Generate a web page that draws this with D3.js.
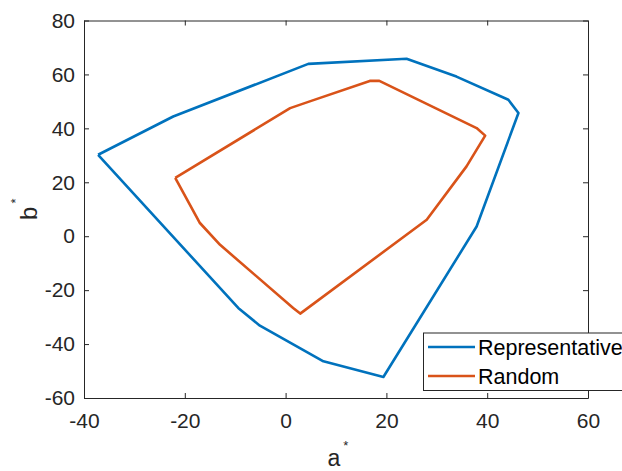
<!DOCTYPE html>
<html>
<head>
<meta charset="utf-8">
<script src="https://cdn.jsdelivr.net/npm/d3@7"></script>
<style>
  body { margin: 0; background: #fff; }
  svg { display: block; font-family: "Liberation Sans", Arial, sans-serif; }
  .tick text { fill: #262626; font-size: 21px; }
  .tick line, .domain { stroke: #262626; }
</style>
</head>
<body>
<svg id="chart" width="622" height="471"></svg>
<script>
"use strict";

const X_TICKS = [-40, -20, 0, 20, 40, 60];
const Y_TICKS = [-60, -40, -20, 0, 20, 40, 60, 80];
const SERIES_NAMES = ["Representative", "Random"];

// gamut outlines (a*, b*)
const repA = [-37.2, -22.3, 4.5, 24.0, 33.9, 44.2, 46.2, 37.9, 19.4, 7.5, -5.1, -9.4, -37.2];
const repB = [30.2, 44.4, 63.9, 65.8, 59.2, 50.6, 45.7, 3.6, -52.2, -46.4, -33.2, -26.6, 30.2];
const randA = [-21.9, -17.0, -13.0, 1.5, 2.9, 28.0, 35.9, 39.6, 37.9, 18.6, 16.7, 4.8, 0.9, -21.9];
const randB = [21.6, 4.9, -3.2, -26.6, -28.7, 6.1, 25.9, 37.3, 40.1, 57.6, 57.6, 50.0, 47.5, 21.6];

const COLORS = ["#0072BD", "#D95319"];

const margin = { top: 20.5, left: 84, right: 34, bottom: 73 };

function init() {
    const svg = d3.select("#chart");
    const width = +svg.attr("width"), height = +svg.attr("height");

    const x = d3.scaleLinear().domain([-40, 60]).range([margin.left, width - margin.right]);
    const y = d3.scaleLinear().domain([-60, 80]).range([height - margin.bottom, margin.top]);
    const fmt = d => String(d);

    // axes, ticks inward like MATLAB
    svg.append("g")
        .attr("transform", `translate(0, ${y(-60)})`)
        .call(d3.axisBottom(x).tickValues(X_TICKS).tickFormat(fmt).tickSizeInner(-5).tickSizeOuter(0).tickPadding(15));
    svg.append("g")
        .attr("transform", `translate(0, ${y(80)})`)
        .call(d3.axisTop(x).tickValues(X_TICKS).tickSizeInner(-5).tickSizeOuter(0).tickFormat(""));
    svg.append("g")
        .attr("transform", `translate(${x(-40)}, 0)`)
        .call(d3.axisLeft(y).tickValues(Y_TICKS).tickFormat(fmt).tickSizeInner(-5).tickSizeOuter(0).tickPadding(9));
    svg.append("g")
        .attr("transform", `translate(${x(60)}, 0)`)
        .call(d3.axisRight(y).tickValues(Y_TICKS).tickSizeInner(-5).tickSizeOuter(0).tickFormat(""));

    // axis labels
    let xl = svg.append("text")
        .attr("x", (x(-40) + x(60)) / 2 + 2)
        .attr("y", 466)
        .attr("text-anchor", "middle")
        .attr("fill", "#262626")
        .attr("font-size", 23);
    xl.append("tspan").text("a");
    xl.append("tspan").attr("font-size", 13).attr("dx", 3).attr("dy", -16).text("*");

    let yl = svg.append("text")
        .attr("transform", `translate(37, ${(y(-60) + y(80)) / 2}) rotate(-90)`)
        .attr("text-anchor", "middle")
        .attr("fill", "#262626")
        .attr("font-size", 24);
    yl.append("tspan").text("b");
    yl.append("tspan").attr("font-size", 13).attr("dx", 3).attr("dy", -17).text("*");

    // outlines
    const line = d3.line().x(d => x(d[0])).y(d => y(d[1]));
    const series = [d3.zip(repA, repB), d3.zip(randA, randB)];
    series.forEach((pts, i) => {
        svg.append("path")
            .datum(pts)
            .attr("d", line)
            .attr("fill", "none")
            .attr("stroke", COLORS[i])
            .attr("stroke-width", 2.6)
            .attr("stroke-linejoin", "round");
    });

    // legend
    const lg = svg.append("g");
    lg.append("rect")
        .attr("x", 423.5).attr("y", 333)
        .attr("width", 220).attr("height", 57.5)
        .attr("fill", "#fff").attr("stroke", "#262626").attr("stroke-width", 1);
    SERIES_NAMES.forEach((name, i) => {
        let ly = 347 + i * 29;
        lg.append("line")
            .attr("x1", 428).attr("x2", 475)
            .attr("y1", ly).attr("y2", ly)
            .attr("stroke", COLORS[i]).attr("stroke-width", 2.6);
        lg.append("text")
            .attr("x", 478).attr("y", ly + 7.5)
            .attr("fill", "#000")
            .attr("font-size", 21.5)
            .text(name);
    });
}

init();
</script>
</body>
</html>
